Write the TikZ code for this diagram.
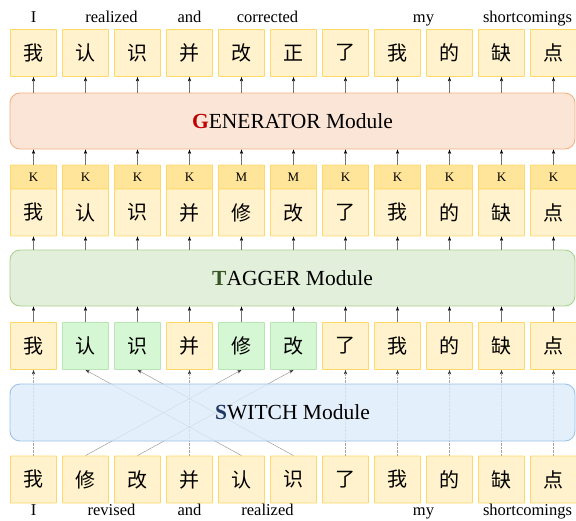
\documentclass[tikz,border=0pt]{standalone}
\usepackage{fontspec}
\setmainfont{Liberation Serif}
\newfontfamily\cjk{Noto Sans CJK SC}
\usetikzlibrary{arrows.meta}
\definecolor{ybox}{HTML}{FFF2CC}
\definecolor{yline}{HTML}{FFD966}
\definecolor{khead}{HTML}{FFE599}
\definecolor{mhead}{HTML}{FBE3D6}
\definecolor{gfill}{HTML}{D5F7D3}
\definecolor{gline}{HTML}{B9E4B4}
\definecolor{genfill}{HTML}{FBE5D6}
\definecolor{genline}{HTML}{F4B183}
\definecolor{tagfill}{HTML}{E2EFDA}
\definecolor{tagline}{HTML}{A9D18E}
\definecolor{swfill}{HTML}{DEEBFB}
\definecolor{swline}{HTML}{9DC3E6}
\definecolor{gred}{HTML}{C00000}
\definecolor{tgreen}{HTML}{375623}
\definecolor{sblue}{HTML}{1F3864}
\tikzset{
  charbox/.style={draw=yline, fill=ybox, line width=0.9pt, minimum width=46pt, minimum height=47pt,
    inner sep=0pt, rounded corners=0.6pt, font=\cjk\fontsize{20}{20}\selectfont},
  greenbox/.style={charbox, draw=gline, fill=gfill},
  headbox/.style={draw=yline, fill=khead, line width=0.9pt, minimum width=46pt, minimum height=24pt,
    inner sep=0pt, rounded corners=0.6pt, font=\fontsize{13}{13}\selectfont},
  mheadbox/.style={headbox, fill=mhead},
  module/.style={line width=0.9pt, minimum width=565pt, minimum height=56pt, rounded corners=10pt,
    inner sep=0pt, font=\fontsize{21.5}{22}\selectfont},
  wordlab/.style={anchor=base, inner sep=0pt, font=\fontsize{16.5}{17}\selectfont},
  upar/.style={draw=black!55, line width=0.5pt, -{Stealth[length=4.5pt,width=3.2pt,black]}},
  swpath/.style={draw=black!45, line width=0.4pt, -{Stealth[length=4.5pt,width=3.2pt,black!80]}},
  swstraight/.style={swpath, draw=black!35, densely dotted},
}
\begin{document}
\begin{tikzpicture}[x=1pt,y=-1pt]
\useasboundingbox (0,0) rectangle (576,520);
% top row
\foreach \c [count=\i from 0] in {我,认,识,并,改,正,了,我,的,缺,点}
  \node[charbox] (t\i) at (33.5+52*\i,53) {\c};
% K/M row
\foreach \c/\h [count=\i from 0] in {我/K,认/K,识/K,并/K,修/M,改/M,了/K,我/K,的/K,缺/K,点/K}{
  \ifx\h M
    \node[mheadbox] (h\i) at (33.5+52*\i,177) {\h};
  \else
    \node[headbox] (h\i) at (33.5+52*\i,177) {\h};
  \fi
  \node[charbox] (k\i) at (33.5+52*\i,212.5) {\c};
}
% middle row
\foreach \c/\g [count=\i from 0] in {我/0,认/1,识/1,并/0,修/1,改/1,了/0,我/0,的/0,缺/0,点/0}{
  \ifnum\g=1
    \node[greenbox] (m\i) at (33.5+52*\i,346) {\c};
  \else
    \node[charbox] (m\i) at (33.5+52*\i,346) {\c};
  \fi
}
% bottom row
\foreach \c [count=\i from 0] in {我,修,改,并,认,识,了,我,的,缺,点}
  \node[charbox] (b\i) at (33.5+52*\i,479.5) {\c};
% modules
\node[module, draw=genline, fill=genfill] (gen) at (292.5,121) {\textbf{\color{gred}G}ENERATOR Module};
\node[module, draw=tagline, fill=tagfill] (tag) at (292.5,278) {\textbf{\color{tgreen}T}AGGER Module};
% switch connectors
\foreach \i in {0,3,6,7,8,9,10}
  \draw[swstraight] (b\i.north) -- (m\i.south);
\draw[swpath] (b1.north) -- (m4.south);
\draw[swpath] (b2.north) -- (m5.south);
\draw[swpath] (b4.north) -- (m1.south);
\draw[swpath] (b5.north) -- (m2.south);
\node[module, draw=swline, fill=swfill, fill opacity=0.82, text opacity=1, minimum height=57pt] (sw) at (292.5,412.5) {\textbf{\color{sblue}S}WITCH Module};
% arrows
\foreach \i in {0,...,10}{
  \draw[upar] (gen.north -| t\i) -- (t\i.south);
  \draw[upar] (h\i.north) -- (gen.south -| h\i);
  \draw[upar] (tag.north -| k\i) -- (k\i.south);
  \draw[upar] (m\i.north) -- (tag.south -| m\i);
}
% word labels
\node[wordlab] (lt0) at (33.5,22) {I};
\node[wordlab] (lt1) at (111.5,22) {realized};
\node[wordlab] (lt2) at (189.5,22) {and};
\node[wordlab] (lt3) at (267.5,22) {corrected};
\node[wordlab] (lt4) at (423.5,22) {my};
\node[wordlab] (lt5) at (527.5,22) {shortcomings};
\node[wordlab] (lb0) at (33.5,515.5) {I};
\node[wordlab] (lb1) at (111.5,515.5) {revised};
\node[wordlab] (lb2) at (189.5,515.5) {and};
\node[wordlab] (lb3) at (267.5,515.5) {realized};
\node[wordlab] (lb4) at (423.5,515.5) {my};
\node[wordlab] (lb5) at (527.5,515.5) {shortcomings};
\end{tikzpicture}
\end{document}
